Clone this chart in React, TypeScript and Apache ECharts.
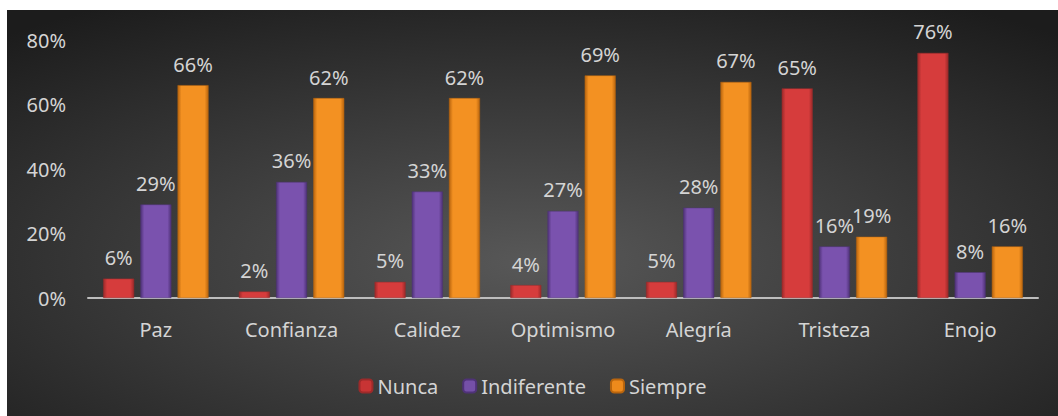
import React, { useEffect, useRef } from "react";
import * as echarts from "echarts";

const categories = ["Paz", "Confianza", "Calidez", "Optimismo", "Alegría", "Tristeza", "Enojo"];
const nunca = [6, 2, 5, 4, 5, 65, 76];
const indiferente = [29, 36, 33, 27, 28, 16, 8];
const siempre = [66, 62, 62, 69, 67, 19, 16];
const seriesNames = ["Nunca", "Indiferente", "Siempre"];

const FONT = "'Noto Sans', 'Open Sans', sans-serif";
const TXT = "#d4d4d4";

function barGrad(dark: string, mid: string) {
  return new echarts.graphic.LinearGradient(0, 0, 1, 0, [
    { offset: 0, color: dark },
    { offset: 0.12, color: mid },
    { offset: 0.88, color: mid },
    { offset: 1, color: dark },
  ]);
}

export default function App() {
  const ref = useRef<HTMLDivElement>(null);
  useEffect(() => {
    if (!ref.current) return;
    const chart = echarts.init(ref.current, undefined, { renderer: "svg" });
    const colors = [
      { dark: "#9c2a2a", mid: "#d63c3c", legend: "#c83434" },
      { dark: "#4f3278", mid: "#7a52ae", legend: "#7550a8" },
      { dark: "#b9650e", mid: "#f39122", legend: "#ee8a1c" },
    ];
    const data = [nunca, indiferente, siempre];
    chart.setOption({
      animation: false,
      backgroundColor: new echarts.graphic.RadialGradient(0.5, 0.62, 0.75, [
        { offset: 0, color: "#585858" },
        { offset: 1, color: "#1c1c1c" },
      ]),
      textStyle: { fontFamily: FONT },
      grid: { left: 81, right: 20, top: 30, bottom: 118 },
      legend: {
        top: 361,
        left: "center",
        itemWidth: 13,
        itemHeight: 13,
        itemGap: 24,
        textStyle: { color: TXT, fontSize: 20, fontFamily: FONT },
        data: seriesNames.map((n, i) => ({ name: n, itemStyle: { color: colors[i].legend } })),
      },
      xAxis: {
        type: "category",
        data: categories,
        axisLine: { lineStyle: { color: "#bdbdbd", width: 2 } },
        axisTick: { show: false },
        axisLabel: { color: TXT, fontSize: 20, margin: 21, interval: 0, fontFamily: FONT },
      },
      yAxis: {
        type: "value",
        min: 0,
        max: 80,
        interval: 20,
        splitLine: { show: false },
        axisLine: { show: false },
        axisTick: { show: false },
        axisLabel: { color: TXT, fontSize: 20, margin: 22, formatter: "{value}%", fontFamily: FONT },
      },
      series: seriesNames.map((n, i) => ({
        name: n,
        type: "bar",
        data: data[i],
        barWidth: 31,
        barGap: "20%",
        itemStyle: {
          color: barGrad(colors[i].dark, colors[i].mid),
          borderColor: colors[i].dark,
          borderWidth: 0.5,
        },
        label: {
          show: true,
          position: "top",
          distance: 11,
          color: TXT,
          fontSize: 20,
          fontFamily: FONT,
          formatter: "{c}%",
        },
      })),
    });
    return () => chart.dispose();
  }, []);
  return (
    <div
      ref={ref}
      style={{ position: "absolute", left: 7, top: 10, width: 1051, height: 406 }}
    />
  );
}
